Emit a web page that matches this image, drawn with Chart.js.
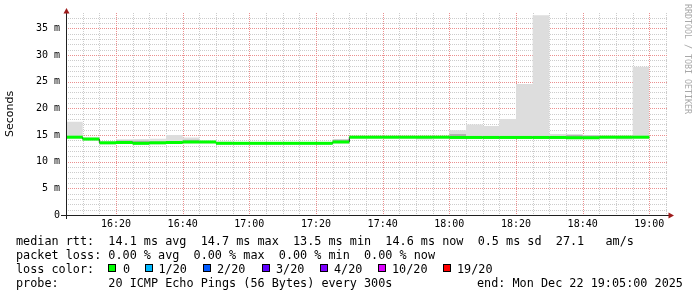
<!DOCTYPE html>
<html>
<head>
<meta charset="utf-8">
<script src="https://cdn.jsdelivr.net/npm/chart.js@4.4.1/dist/chart.umd.min.js"></script>
<style>
  html, body { margin: 0; padding: 0; background: #fff; }
  #wrap { position: relative; width: 697px; height: 297px; overflow: hidden; background: #fff; }
  #chart { position: absolute; left: 0; top: 0; }
  .leg { position: absolute; font-family: "DejaVu Sans Mono", monospace; font-size: 11.8px; line-height: 14px; white-space: pre; color: #000; }
  .box { position: absolute; box-sizing: border-box; width: 8px; height: 8px; border: 1px solid #000; }
  #mark { position: absolute; left: 683px; top: 4px; writing-mode: vertical-rl; font-family: "DejaVu Sans Mono", monospace; font-size: 8.3px; line-height: 10px; color: #a8a8a8; white-space: pre; }
</style>
</head>
<body>
<div id="wrap">
  <canvas id="chart" width="697" height="297"></canvas>
  <div id="mark">RRDTOOL / TOBI OETIKER</div>
  <div class="leg" style="left:16px;top:234px">median rtt:  14.1 ms avg  14.7 ms max  13.5 ms min  14.6 ms now  0.5 ms sd  27.1   am/s</div>
  <div class="leg" style="left:16px;top:248px">packet loss: 0.00 % avg  0.00 % max  0.00 % min  0.00 % now</div>
  <div class="leg" style="left:16px;top:262px">loss color:</div>
  <div id="lossLegend"></div>
  <div class="leg" style="left:16px;top:276px">probe:       20 ICMP Echo Pings (56 Bytes) every 300s</div>
  <div class="leg" style="left:477px;top:276px">end: Mon Dec 22 19:05:00 2025</div>
</div>
<script>
// 5 minute steps, 16:05 .. 18:55 (each value covers the following 5 minutes)
const stepStarts = [
  "16:05", "16:10", "16:15", "16:20", "16:25", "16:30", "16:35", "16:40", "16:45", "16:50",
  "16:55", "17:00", "17:05", "17:10", "17:15", "17:20", "17:25", "17:30", "17:35", "17:40",
  "17:45", "17:50", "17:55", "18:00", "18:05", "18:10", "18:15", "18:20", "18:25", "18:30",
  "18:35", "18:40", "18:45", "18:50", "18:55"
];

// median rtt in ms
const medianMs = [
  14.6, 14.25, 13.55, 13.6, 13.45, 13.55, 13.6, 13.7, 13.7, 13.45,
  13.45, 13.45, 13.45, 13.45, 13.45, 13.45, 13.7, 14.6, 14.6, 14.6,
  14.6, 14.6, 14.6, 14.55, 14.55, 14.55, 14.55, 14.55, 14.55, 14.55,
  14.5, 14.5, 14.6, 14.6, 14.6
];

// smoke: slowest / fastest ping of each round
const smokeMax = [
  17.5, 14.6, 13.8, 14.2, 14.25, 14.3, 15.0, 14.55, 14.0, 13.8,
  13.7, 13.7, 13.7, 13.7, 13.7, 13.7, 14.25, 14.85, 14.85, 14.85,
  14.85, 14.85, 14.85, 15.9, 17.0, 16.7, 18.0, 24.6, 37.5, 15.2,
  15.1, 15.0, 14.9, 14.9, 27.8
];
const smokeMin = [
  14.3, 14.0, 13.25, 13.3, 13.15, 13.25, 13.3, 13.4, 13.4, 13.15,
  13.15, 13.15, 13.15, 13.15, 13.15, 13.15, 13.4, 14.3, 14.3, 14.3,
  14.3, 14.15, 14.3, 14.25, 14.25, 14.25, 14.25, 14.25, 14.25, 14.25,
  14.2, 14.2, 14.3, 14.15, 14.3
];

// inner (darker) smoke band
const coreHi = [
  14.8, 14.4, 13.7, 14.0, 13.95, 13.75, 13.8, 14.1, 13.85, 13.6,
  13.6, 13.6, 13.6, 13.6, 13.6, 13.6, 14.1, 14.75, 14.75, 14.75,
  14.75, 14.75, 14.75, 15.2, 14.8, 14.8, 14.8, 14.8, 14.8, 14.8,
  15.05, 14.9, 14.75, 14.75, 14.75
];
const coreLo = [
  14.45, 14.1, 13.4, 13.45, 13.3, 13.4, 13.45, 13.55, 13.55, 13.3,
  13.3, 13.3, 13.3, 13.3, 13.3, 13.3, 13.55, 14.45, 14.45, 14.45,
  14.45, 14.4, 14.45, 14.4, 14.4, 14.4, 14.4, 14.4, 14.4, 14.4,
  14.35, 14.35, 14.45, 14.4, 14.45
];

// lost pings per round -> index into loss legend
const lossIdx = [
  0, 0, 0, 0, 0, 0, 0, 0, 0, 0,
  0, 0, 0, 0, 0, 0, 0, 0, 0, 0,
  0, 0, 0, 0, 0, 0, 0, 0, 0, 0,
  0, 0, 0, 0, 0
];

const lossLabels = ["0", "1/20", "2/20", "3/20", "4/20", "10/20", "19/20"];
const lossColors = ["#00ff00", "#00b8ff", "#0059ff", "#5e00ff", "#7e00ff", "#dd00ff", "#ff0000"];
const xTickLabels = ["16:20", "16:40", "17:00", "17:20", "17:40", "18:00", "18:20", "18:40", "19:00"];

// legend layout
const lossBoxX = [108, 145, 203, 262, 320, 378, 443];
const lossTextX = [123, 158.5, 217, 276, 334, 392, 457];
const lossLegend = document.getElementById("lossLegend");
lossLabels.forEach((lab, i) => {
  const b = document.createElement("div");
  b.className = "box";
  b.style.left = lossBoxX[i] + "px";
  b.style.top = "264px";
  b.style.background = lossColors[i];
  lossLegend.appendChild(b);
  const t = document.createElement("div");
  t.className = "leg";
  t.style.left = lossTextX[i] + "px";
  t.style.top = "262px";
  t.textContent = lab;
  lossLegend.appendChild(t);
});

const toMin = (s) => {
  const [h, m] = s.split(":").map(Number);
  return h * 60 + m;
};
const fmt = (v) => {
  const r = Math.round(v);
  return String(Math.floor(r / 60)).padStart(2, "0") + ":" + String(r % 60).padStart(2, "0");
};
const starts = stepStarts.map(toMin);
const xMin = starts[0];
const xMax = starts[starts.length - 1] + 10;
const majorX = xTickLabels.map(toMin);

const stepped = (vals) => {
  const pts = starts.map((t, i) => ({ x: t, y: vals[i] }));
  pts.push({ x: starts[starts.length - 1] + 5, y: vals[vals.length - 1] });
  return pts;
};
// horizontal pieces only, broken between steps
const pieces = (vals) => {
  const pts = [];
  starts.forEach((t, i) => {
    pts.push({ x: t, y: vals[i] }, { x: t + 5, y: vals[i] }, { x: t + 5, y: null });
  });
  return pts;
};

const majorGrid = "#eb8f8f";
const minorGrid = "#cccccc";

// rrdtool style dotted grid (1px dots), drawn behind the data
const gridPlugin = {
  id: "rrdGrid",
  beforeDatasetsDraw(chart) {
    const c = chart.ctx;
    const a = chart.chartArea;
    const xs = chart.scales.x;
    const ys = chart.scales.y;
    const top = Math.round(a.top);
    const bottom = Math.round(a.bottom);
    const left = Math.round(a.left);
    const right = Math.round(a.right) + 2;
    c.save();
    [false, true].forEach((wantMajor) => {
      xs.ticks.forEach((t) => {
        const isMajor = majorX.includes(Math.round(t.value));
        if (isMajor !== wantMajor || t.value === xMin) return;
        const px = Math.round(xs.getPixelForValue(t.value));
        c.fillStyle = isMajor ? majorGrid : minorGrid;
        for (let y = top; y < bottom; y += 2) c.fillRect(px, y, 1, 1);
      });
      ys.ticks.forEach((t) => {
        const isMajor = t.value % 5 === 0;
        if (isMajor !== wantMajor || t.value === 0) return;
        const py = Math.round(ys.getPixelForValue(t.value));
        c.fillStyle = isMajor ? majorGrid : minorGrid;
        for (let x = left; x < right; x += 2) c.fillRect(x, py, 1, 1);
      });
    });
    c.restore();
  },
};

const axisPlugin = {
  id: "rrdAxes",
  afterDraw(chart) {
    const c = chart.ctx;
    const a = chart.chartArea;
    c.save();
    c.strokeStyle = "#202020";
    c.lineWidth = 1;
    c.beginPath();
    c.moveTo(a.left - 5, a.bottom + 0.5);
    c.lineTo(a.right + 3, a.bottom + 0.5);
    c.moveTo(a.left + 0.5, a.bottom + 4);
    c.lineTo(a.left + 0.5, a.top - 1);
    c.stroke();
    c.fillStyle = "#9e1b1b";
    c.beginPath();
    c.moveTo(a.left + 0.5, a.top - 5);
    c.lineTo(a.left - 2.5, a.top + 0.5);
    c.lineTo(a.left + 3.5, a.top + 0.5);
    c.closePath();
    c.fill();
    c.beginPath();
    c.moveTo(a.right + 8, a.bottom + 0.5);
    c.lineTo(a.right + 2.5, a.bottom - 2.5);
    c.lineTo(a.right + 2.5, a.bottom + 3.5);
    c.closePath();
    c.fill();
    c.restore();
  },
};

const noLine = "rgba(0,0,0,0)";
const ctx = document.getElementById("chart").getContext("2d");
new Chart(ctx, {
  type: "line",
  data: {
    datasets: [
      {
        data: stepped(smokeMax),
        stepped: true,
        borderColor: noLine,
        borderWidth: 0,
        backgroundColor: "#dddddd",
        fill: "+1",
        pointRadius: 0,
        order: 6,
      },
      {
        data: stepped(smokeMin),
        stepped: true,
        borderColor: noLine,
        borderWidth: 0,
        fill: false,
        pointRadius: 0,
        order: 5,
      },
      {
        data: stepped(coreHi),
        stepped: true,
        borderColor: noLine,
        borderWidth: 0,
        backgroundColor: "#b0b0b0",
        fill: "+1",
        pointRadius: 0,
        order: 4,
      },
      {
        data: stepped(coreLo),
        stepped: true,
        borderColor: noLine,
        borderWidth: 0,
        fill: false,
        pointRadius: 0,
        order: 3,
      },
      {
        data: stepped(medianMs),
        stepped: true,
        borderColor: "#202020",
        borderWidth: 1,
        fill: false,
        pointRadius: 0,
        order: 2,
      },
      {
        data: pieces(medianMs),
        borderColor: "#00ff00",
        borderWidth: 3,
        borderCapStyle: "butt",
        fill: false,
        pointRadius: 0,
        spanGaps: false,
        segment: {
          borderColor: (s) => lossColors[lossIdx[Math.floor(s.p0DataIndex / 3)]],
        },
        order: 1,
      },
    ],
  },
  options: {
    responsive: false,
    animation: false,
    devicePixelRatio: 1,
    layout: { padding: { top: 13, right: 31, left: 0, bottom: 0 } },
    plugins: {
      legend: { display: false },
      tooltip: { enabled: false },
    },
    scales: {
      x: {
        type: "linear",
        min: xMin,
        max: xMax,
        afterBuildTicks: (s) => {
          const t = [];
          for (let v = xMin; v <= xMax; v += 5) t.push({ value: v });
          s.ticks = t;
        },
        afterFit: (s) => {
          s.height = 82;
        },
        ticks: {
          autoSkip: false,
          maxRotation: 0,
          padding: 3,
          color: "#000",
          font: { family: "DejaVu Sans Mono", size: 10 },
          callback: (v) => (majorX.includes(Math.round(v)) ? fmt(v) : ""),
        },
        grid: { display: false, drawTicks: false },
        border: { display: false },
      },
      y: {
        type: "linear",
        min: 0,
        max: 37.9,
        afterBuildTicks: (s) => {
          const t = [];
          for (let v = 0; v <= 37; v += 1) t.push({ value: v });
          s.ticks = t;
        },
        afterFit: (s) => {
          s.width = 66;
        },
        ticks: {
          autoSkip: false,
          padding: 6,
          color: "#000",
          font: { family: "DejaVu Sans Mono", size: 10 },
          callback: (v) => (v % 5 === 0 ? (v === 0 ? "0" : v + " m") : ""),
        },
        grid: { display: false, drawTicks: false },
        border: { display: false },
        title: {
          display: true,
          text: "Seconds",
          color: "#000",
          font: { family: "DejaVu Sans", size: 11 },
          padding: { top: 4, bottom: 0 },
        },
      },
    },
  },
  plugins: [gridPlugin, axisPlugin],
});
</script>
</body>
</html>
